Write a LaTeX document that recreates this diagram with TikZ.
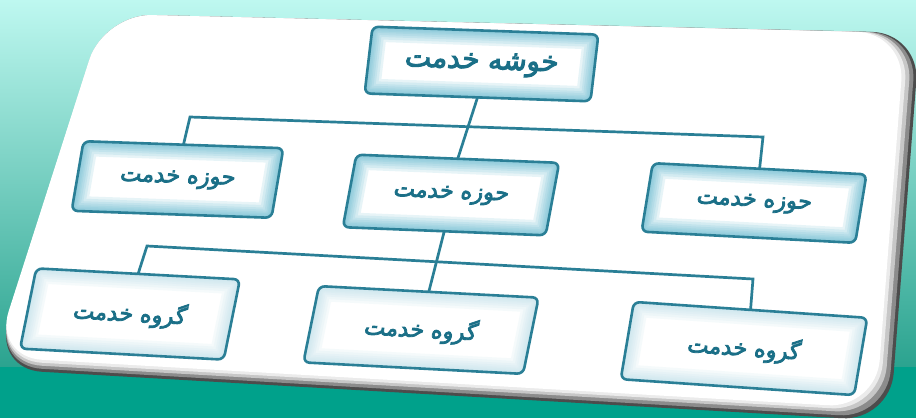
\documentclass[tikz,border=0pt]{standalone}
\usepackage{fontspec}
\TeXXeTstate=1
\newfontfamily\arabicfont[Script=Arabic,FakeBold=3.5]{DejaVu Sans}
\definecolor{bgtop}{HTML}{BEF8F0}
\definecolor{bgmid}{HTML}{8ADCCB}
\definecolor{bgbot}{HTML}{2BA38F}
\definecolor{bgband}{HTML}{00A18B}
\definecolor{boxline}{HTML}{2A7F96}
\definecolor{glowstrong}{HTML}{6FBDD2}
\definecolor{glowweak}{HTML}{C4E3EC}
\definecolor{txtc}{HTML}{1A6F87}
\tikzset{
  conn/.style={draw=boxline, line width=2.7pt},
  boxborder/.style={draw=boxline, line width=2.6pt, rounded corners=6pt},
  boxtext/.style={transform shape, text=txtc, inner sep=0pt},
}
\newcommand\orgbox[8]{%
  \begin{scope}[shift={(#2)},rotate=#3,xslant=#4]
    \fill[white,rounded corners=6pt] (-#5/2,-#6/2) rectangle (#5/2,#6/2);
    \begin{scope}
      \clip[rounded corners=6pt] (-#5/2,-#6/2) rectangle (#5/2,#6/2);
      \foreach \lw in {30,25,20,16,12,9,6,3}
        \draw[#7, line width=\lw pt, opacity=0.16, rounded corners=6pt] (-#5/2,-#6/2) rectangle (#5/2,#6/2);
    \end{scope}
    \draw[boxborder] (-#5/2,-#6/2) rectangle (#5/2,#6/2);
    \node[boxtext] (#1) at (0,0) {#8};
    \coordinate (#1-n) at (0,-#6/2);
    \coordinate (#1-s) at (0,#6/2);
  \end{scope}}
\newcommand\midtext[1]{\arabicfont\fontsize{22.5}{26}\selectfont\beginR #1\endR}
\newcommand\toptext[1]{\arabicfont\fontsize{28}{32}\selectfont\beginR #1\endR}
\begin{document}
\begin{tikzpicture}[x=1pt,y=-1pt]
\useasboundingbox (0,0) rectangle (916,418);
% background
\shade[top color=bgtop, middle color=bgmid, bottom color=bgbot] (0,0) rectangle (916,367);
\fill[bgband] (0,367) rectangle (916,418);
% card with bevel
\fill[black!70, rounded corners=48pt] (104,14) -- (920,33) -- (890,421) -- (-6,369) -- cycle;
\fill[black!45, rounded corners=48pt] (104,14) -- (917,33) -- (887,418) -- (-6,366) -- cycle;
\fill[black!22, rounded corners=48pt] (104,14) -- (913,33) -- (883,414) -- (-6,363) -- cycle;
\fill[black!8, rounded corners=48pt] (104,14) -- (909,33) -- (879,411) -- (-6,360) -- cycle;
\fill[white, rounded corners=48pt] (104,14) -- (905,33) -- (876,408) -- (-6,357) -- cycle;
% boxes
\orgbox{top}{481.5,64}{-2.0}{0.083}{226}{67}{glowstrong}{\toptext{خوشه خدمت}}
\orgbox{m1}{177.5,179.5}{-2.0}{0.135}{200}{70}{glowstrong}{\midtext{حوزه خدمت}}
\orgbox{m2}{451,195}{-2.3}{0.145}{203}{73}{glowstrong}{\midtext{حوزه خدمت}}
\orgbox{m3}{754,203}{-3.0}{0.11}{214}{69}{glowstrong}{\midtext{حوزه خدمت}}
\orgbox{g1}{130,314}{-3.1}{0.146}{204}{81}{glowweak}{\midtext{گروه خدمت}}
\orgbox{g2}{421,330}{-3.0}{0.15}{220}{77}{glowweak}{\midtext{گروه خدمت}}
\orgbox{g3}{744,348.5}{-3.9}{0.10}{234}{78}{glowweak}{\midtext{گروه خدمت}}
% connectors
\coordinate (b1l) at (190,117);
\coordinate (b1r) at (763,137);
\coordinate (b2l) at (147,246);
\coordinate (b2r) at (753,279);
\draw[conn] (top-s) -- (m2-n);
\draw[conn] (m1-n) -- (b1l) -- (b1r) -- (m3-n);
\draw[conn] (m2-s) -- (g2-n);
\draw[conn] (g1-n) -- (b2l) -- (b2r) -- (g3-n);
\end{tikzpicture}
\end{document}
